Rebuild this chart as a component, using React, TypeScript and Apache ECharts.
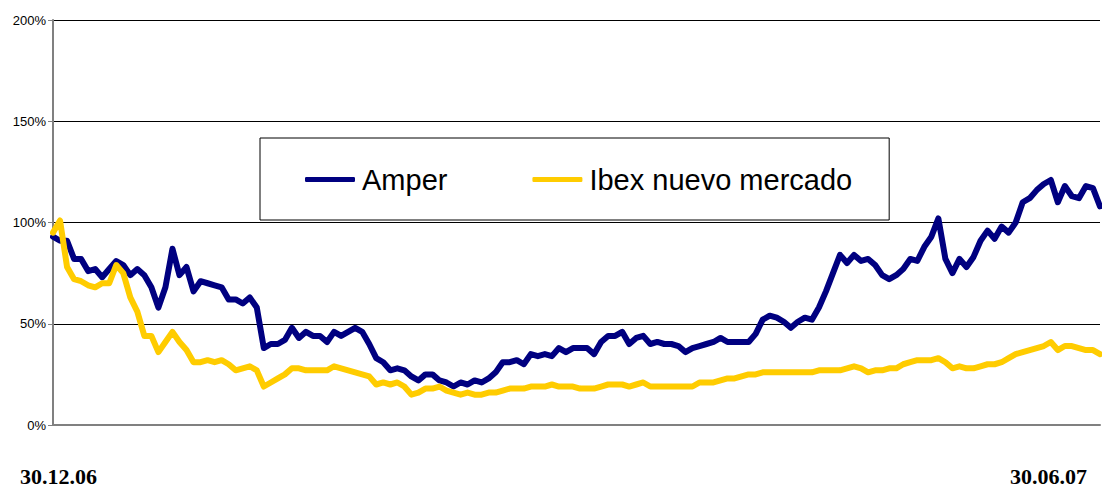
import React, { useEffect, useRef } from "react";
import * as echarts from "echarts";

const seriesNames = ["Amper", "Ibex nuevo mercado"];
const xTickLabels = ["30.12.06", "30.06.07"];

const amper = [
  93, 91, 91, 82, 82, 76, 77, 73, 77, 81,
  79, 74, 77, 74, 68, 58, 68, 87, 74, 78,
  66, 71, 70, 69, 68, 62, 62, 60, 63, 58,
  38, 40, 40, 42, 48, 43, 46, 44, 44, 41,
  46, 44, 46, 48, 46, 40, 33, 31, 27, 28,
  27, 24, 22, 25, 25, 22, 21, 19, 21, 20,
  22, 21, 23, 26, 31, 31, 32, 30, 35, 34,
  35, 34, 38, 36, 38, 38, 38, 35, 41, 44,
  44, 46, 40, 43, 44, 40, 41, 40, 40, 39,
  36, 38, 39, 40, 41, 43, 41, 41, 41, 41,
  45, 52, 54, 53, 51, 48, 51, 53, 52, 58,
  66, 75, 84, 80, 84, 81, 82, 79, 74, 72,
  74, 77, 82, 81, 88, 93, 102, 82, 75, 82,
  78, 83, 91, 96, 92, 98, 95, 100, 110, 112,
  116, 119, 121, 110, 118, 113, 112, 118, 117, 108,
];

const ibex = [
  95, 101, 78, 72, 71, 69, 68, 70, 70, 79,
  75, 63, 56, 44, 44, 36, 41, 46, 41, 37,
  31, 31, 32, 31, 32, 30, 27, 28, 29, 27,
  19, 21, 23, 25, 28, 28, 27, 27, 27, 27,
  29, 28, 27, 26, 25, 24, 20, 21, 20, 21,
  19, 15, 16, 18, 18, 19, 17, 16, 15, 16,
  15, 15, 16, 16, 17, 18, 18, 18, 19, 19,
  19, 20, 19, 19, 19, 18, 18, 18, 19, 20,
  20, 20, 19, 20, 21, 19, 19, 19, 19, 19,
  19, 19, 21, 21, 21, 22, 23, 23, 24, 25,
  25, 26, 26, 26, 26, 26, 26, 26, 26, 27,
  27, 27, 27, 28, 29, 28, 26, 27, 27, 28,
  28, 30, 31, 32, 32, 32, 33, 31, 28, 29,
  28, 28, 29, 30, 30, 31, 33, 35, 36, 37,
  38, 39, 41, 37, 39, 39, 38, 37, 37, 35,
];

const categories = amper.map((_, i) => String(i));

export default function App() {
  const ref = useRef<HTMLDivElement>(null);
  useEffect(() => {
    if (!ref.current) return;
    const chart = echarts.init(ref.current, null, { renderer: "svg" });
    chart.setOption({
      animation: false,
      backgroundColor: "#ffffff",
      grid: { left: 53, right: 2, top: 20, bottom: 65 },
      legend: {
        data: seriesNames,
        left: 260,
        top: 138,
        orient: "horizontal",
        padding: [27, 37, 26, 45],
        itemGap: 85,
        itemWidth: 50,
        itemHeight: 5,
        icon: "roundRect",
        borderColor: "#000000",
        borderWidth: 1,
        borderRadius: 0,
        backgroundColor: "#ffffff",
        textStyle: {
          fontFamily: "Liberation Sans, Arial, sans-serif",
          fontSize: 29,
          color: "#000000",
          padding: [0, 0, 0, 2],
        },
      },
      xAxis: {
        type: "category",
        data: categories,
        boundaryGap: false,
        axisLine: { show: true, lineStyle: { color: "#808080", width: 2 } },
        axisTick: { show: false },
        axisLabel: { show: false },
        splitLine: { show: false },
      },
      yAxis: {
        type: "value",
        min: 0,
        max: 200,
        interval: 50,
        axisLine: { show: true, lineStyle: { color: "#808080", width: 2 } },
        axisTick: { show: true, length: 5, lineStyle: { color: "#808080" } },
        axisLabel: {
          formatter: "{value}%",
          fontFamily: "Liberation Sans, Arial, sans-serif",
          fontSize: 13,
          color: "#000000",
          margin: 7,
        },
        splitLine: { show: true, lineStyle: { color: "#000000", width: 1 } },
      },
      graphic: [
        {
          type: "text",
          left: 20,
          top: 465,
          style: {
            text: xTickLabels[0],
            font: 'bold 22px "Liberation Serif", "Times New Roman", serif',
            fill: "#000000",
          },
        },
        {
          type: "text",
          right: 15,
          top: 465,
          style: {
            text: xTickLabels[1],
            font: 'bold 22px "Liberation Serif", "Times New Roman", serif',
            fill: "#000000",
          },
        },
      ],
      series: [
        {
          name: seriesNames[0],
          type: "line",
          data: amper,
          showSymbol: false,
          symbol: "none",
          color: "#000080",
          lineStyle: { color: "#000080", width: 6, join: "round", cap: "round" },
        },
        {
          name: seriesNames[1],
          type: "line",
          data: ibex,
          showSymbol: false,
          symbol: "none",
          color: "#FFCC00",
          lineStyle: { color: "#FFCC00", width: 6, join: "round", cap: "round" },
        },
      ],
    });
    return () => chart.dispose();
  }, []);
  return (
    <div
      ref={ref}
      style={{ position: "absolute", left: 0, top: 0, width: 1102, height: 490 }}
    />
  );
}
